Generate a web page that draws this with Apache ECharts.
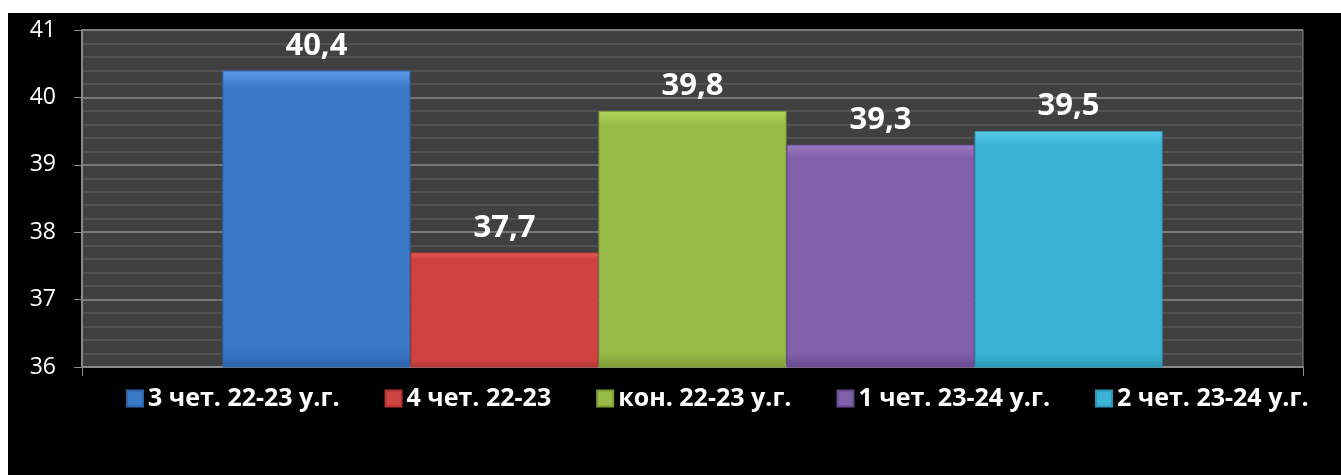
<!DOCTYPE html>
<html>
<head>
<meta charset="utf-8">
<script src="https://cdn.jsdelivr.net/npm/echarts@6/dist/echarts.min.js"></script>
<style>
  html, body { margin: 0; padding: 0; background: #fff; }
  #chart { position: absolute; left: 8px; top: 13px; width: 1333px; height: 462px; }
</style>
</head>
<body>
<div id="chart"></div>
<script>
// data
var categories = [''];
var seriesNames = ['3 чет. 22-23 у.г.', '4 чет. 22-23', 'кон. 22-23 у.г.', '1 чет. 23-24 у.г.', '2 чет. 23-24 у.г.'];
var values = [40.4, 37.7, 39.8, 39.3, 39.5];
var yTicks = [36, 37, 38, 39, 40, 41];
var colors = [
    ['#5a9ae6', '#3a78c8', '#2f64aa'],
    ['#e85a5a', '#cf4242', '#b03535'],
    ['#b2d45c', '#98bb48', '#7f9e38'],
    ['#9c7cc4', '#8060a8', '#68498e'],
    ['#5ccbe8', '#3bb3d6', '#2b97b8']
];

var chart = echarts.init(document.getElementById('chart'));

var series = seriesNames.map(function (name, i) {
    return {
        name: name,
        type: 'bar',
        barGap: '0%',
        barCategoryGap: '23%',
        data: [values[i]],
        itemStyle: {
            color: new echarts.graphic.LinearGradient(0, 0, 0, 1, [
                { offset: 0, color: colors[i][0] },
                { offset: 0.06, color: colors[i][1] },
                { offset: 0.94, color: colors[i][1] },
                { offset: 1, color: colors[i][2] }
            ]),
            borderColor: colors[i][2],
            borderWidth: 1
        },
        label: {
            show: true,
            position: 'top',
            distance: 9,
            color: '#fff',
            fontFamily: 'Open Sans',
            fontWeight: 'bold',
            fontSize: 31,
            formatter: function (p) {
                return String(p.value).replace('.', ',');
            }
        }
    };
});

chart.setOption({
    backgroundColor: '#000',
    animation: false,
    color: colors.map(function (c) { return c[1]; }),
    grid: {
        left: 74, top: 17, right: 38, bottom: 108,
        show: true,
        backgroundColor: '#404040',
        borderColor: '#8a8a8a',
        borderWidth: 1
    },
    legend: {
        top: 368,
        left: 113,
        itemGap: 45,
        itemWidth: 16,
        itemHeight: 16,
        icon: 'rect',
        textStyle: {
            color: '#fff',
            fontFamily: 'Open Sans',
            fontWeight: 'bold',
            fontSize: 25
        }
    },
    xAxis: {
        type: 'category',
        data: categories,
        axisLine: { lineStyle: { color: '#8a8a8a', width: 2 } },
        axisTick: { show: true, length: 9, lineStyle: { color: '#8a8a8a' } },
        axisLabel: { show: false }
    },
    yAxis: {
        type: 'value',
        min: yTicks[0],
        max: yTicks[yTicks.length - 1],
        interval: 1,
        axisLine: { show: true, lineStyle: { color: '#8a8a8a', width: 2 } },
        axisTick: { show: true, length: 8, lineStyle: { color: '#8a8a8a' } },
        axisLabel: {
            color: '#fff',
            fontFamily: 'Open Sans',
            fontSize: 23,
            margin: 26
        },
        splitLine: { lineStyle: { color: '#8a8a8a', width: 1.5 } },
        minorTick: { show: false, splitNumber: 5 },
        minorSplitLine: { show: true, lineStyle: { color: '#585858', width: 1.5 } }
    },
    series: series
});
</script>
</body>
</html>
